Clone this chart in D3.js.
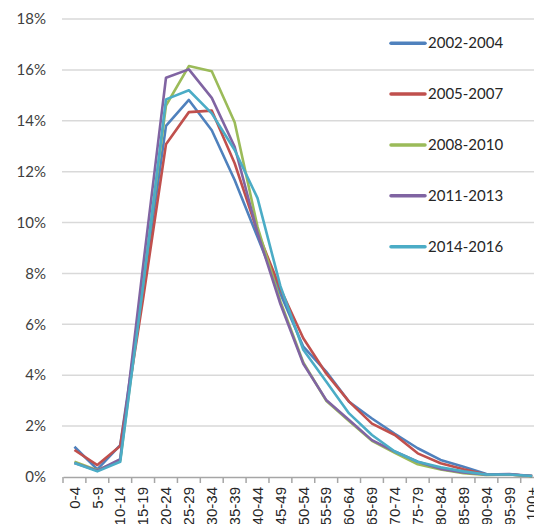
<!DOCTYPE html>
<html lang="en">
<head>
    <meta charset="UTF-8">
    <title>Age distribution by period</title>
    <script src="https://cdn.jsdelivr.net/npm/d3@7"></script>
    <style>
        body {
            margin: 0;
            background-color: #ffffff;
        }

        svg {
            display: block;
            font-family: Lato, "Open Sans", sans-serif;
        }
    </style>
</head>
<body>
    <svg id="chart" width="534" height="524"></svg>

    <script>
        const width = 534;
        const height = 524;

        const ageGroups = ["0-4", "5-9", "10-14", "15-19", "20-24", "25-29", "30-34", "35-39", "40-44", "45-49",
            "50-54", "55-59", "60-64", "65-69", "70-74", "75-79", "80-84", "85-89", "90-94", "95-99", "100+"];

        const periods = ["2002-2004", "2005-2007", "2008-2010", "2011-2013", "2014-2016"];
        const colors = ["#4f81bd", "#c0504d", "#9bbb59", "#8064a2", "#4bacc6"];

        // percent of total, one value per age group
        const s2002 = [1.19, 0.3, 1.25, 7.4, 13.8, 14.82, 13.63, 11.67, 9.43, 7.2, 5.12, 4.14, 2.96, 2.3, 1.7, 1.13, 0.67, 0.4, 0.12, 0.1, 0.04];
        const s2005 = [1.06, 0.47, 1.22, 7.0, 13.08, 14.34, 14.4, 12.33, 9.64, 7.4, 5.45, 4.07, 2.96, 2.1, 1.65, 0.93, 0.54, 0.3, 0.1, 0.1, 0.04];
        const s2008 = [0.6, 0.27, 0.65, 7.6, 14.6, 16.15, 15.95, 13.94, 9.83, 6.9, 4.5, 3.0, 2.2, 1.42, 0.95, 0.5, 0.3, 0.15, 0.08, 0.1, 0.03];
        const s2011 = [0.55, 0.25, 0.7, 8.3, 15.69, 16.02, 14.9, 12.98, 9.6, 6.8, 4.45, 3.03, 2.24, 1.45, 1.0, 0.6, 0.32, 0.18, 0.1, 0.12, 0.04];
        const s2014 = [0.55, 0.22, 0.6, 7.5, 14.84, 15.2, 14.29, 12.85, 10.96, 7.5, 5.0, 3.75, 2.5, 1.65, 1.0, 0.6, 0.38, 0.22, 0.1, 0.1, 0.04];

        const yTicks = [0, 2, 4, 6, 8, 10, 12, 14, 16, 18];

        const series = [s2002, s2005, s2008, s2011, s2014];

        const svg = d3.select("#chart");

        const x = d3.scaleBand()
            .domain(ageGroups)
            .range([63, 543.6]);

        const y = d3.scaleLinear()
            .domain([0, 18])
            .range([477, 19]);

        // gridlines
        svg.append("g")
            .selectAll("line")
            .data(yTicks.filter(d => d > 0))
            .join("line")
            .attr("x1", 62)
            .attr("x2", width)
            .attr("y1", d => y(d))
            .attr("y2", d => y(d))
            .attr("stroke", "#d9d9d9")
            .attr("stroke-width", 1.5);

        // y labels
        svg.append("g")
            .selectAll("text")
            .data(yTicks)
            .join("text")
            .attr("x", 46)
            .attr("y", d => y(d))
            .attr("dy", "0.35em")
            .attr("text-anchor", "end")
            .attr("font-size", "15px")
            .attr("fill", "#404040")
            .text(d => d + "%");

        // x axis
        const xAxis = d3.axisBottom(x).tickSize(0).tickFormat("");
        const gx = svg.append("g")
            .attr("transform", `translate(0,${y(0)})`)
            .call(xAxis);
        gx.select(".domain").attr("stroke", "#a6a6a6").attr("stroke-width", 1.5);

        // ticks on band edges
        gx.append("g")
            .selectAll("line")
            .data(ageGroups)
            .join("line")
            .attr("x1", d => x(d))
            .attr("x2", d => x(d))
            .attr("y1", 0)
            .attr("y2", 6)
            .attr("stroke", "#a6a6a6")
            .attr("stroke-width", 1.5);

        gx.append("g")
            .selectAll("text")
            .data(ageGroups)
            .join("text")
            .attr("transform", d => `translate(${x(d) + x.bandwidth() / 2},10) rotate(-90)`)
            .attr("dy", "0.35em")
            .attr("text-anchor", "end")
            .attr("font-size", "15px")
            .attr("fill", "#262626")
            .text(d => d);

        // lines
        const line = d3.line()
            .x((d, i) => x(ageGroups[i]) + x.bandwidth() / 2)
            .y(d => y(d));

        svg.append("g")
            .selectAll("path")
            .data(series)
            .join("path")
            .attr("d", line)
            .attr("fill", "none")
            .attr("stroke", (d, i) => colors[i])
            .attr("stroke-width", 2.6)
            .attr("stroke-linejoin", "round");

        // legend
        const legend = svg.append("g")
            .selectAll("g")
            .data(periods)
            .join("g")
            .attr("transform", (d, i) => `translate(391,${y(17.05 - i * 2)})`);

        legend.append("line")
            .attr("x1", 0)
            .attr("x2", 34)
            .attr("stroke", (d, i) => colors[i])
            .attr("stroke-width", 3.5)
            .attr("stroke-linecap", "round");

        legend.append("text")
            .attr("x", 37)
            .attr("dy", "0.35em")
            .attr("font-size", "15px")
            .attr("fill", "#262626")
            .text(d => d);
    </script>
</body>
</html>
